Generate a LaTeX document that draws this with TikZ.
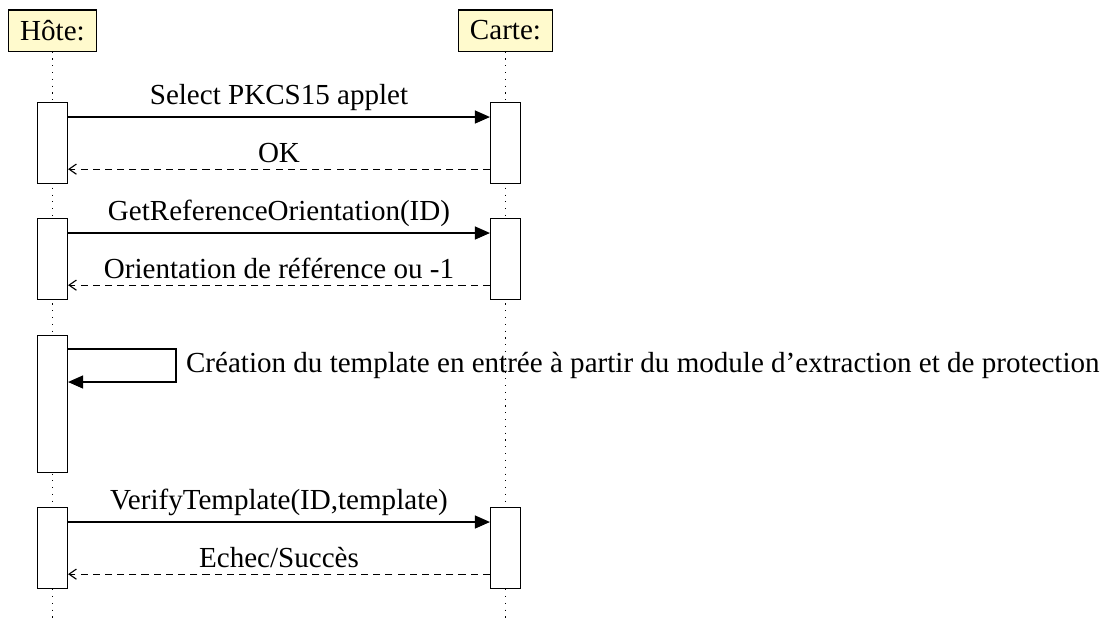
\documentclass[tikz,border=0pt]{standalone}
\usepackage{fontspec}
\setmainfont{Liberation Serif}
\usetikzlibrary{arrows.meta,calc}
\definecolor{instfill}{RGB}{255,250,205}

\begin{document}
\begin{tikzpicture}[
  x=0.3527pt, y=-0.3527pt,
  font=\fontsize{10.25}{12}\selectfont,
  inst/.style={draw, fill=instfill, inner xsep=4pt, minimum height=14.5pt},
  act/.style={draw, fill=white, inner sep=0pt, minimum width=10.58pt, minimum height=28.57pt},
  life/.style={dotted},
  call/.style={-{Triangle[length=5.3pt,width=4.6pt]}},
  ret/.style={dash pattern=on 2.5pt off 1.8pt, -{Straight Barb[length=2.6pt,width=3.6pt]}},
  msg/.style={above, inner sep=2pt}
]
\useasboundingbox (0,0) rectangle (1105,623);

\node[inst] (hote) at (52.5,30.5) {Hôte:};
\node[inst] (carte) at (505.5,30.5) {Carte:};
\coordinate (hend) at (52.5,618);
\coordinate (cend) at (505.5,618);
\draw[life] (hote) -- (hend);
\draw[life] (carte) -- (cend);

\node[act, anchor=north] (h1) at (52.5,102) {};
\node[act, anchor=north] (c1) at (505.5,102) {};
\draw[call] ($(h1.north east)+(0,15)$) -- node[msg] {Select PKCS15 applet} ($(c1.north west)+(0,15)$);
\draw[ret] ($(c1.south west)+(0,-15)$) -- node[msg] {OK} ($(h1.south east)+(0,-15)$);

\node[act, anchor=north] (h2) at (52.5,218) {};
\node[act, anchor=north] (c2) at (505.5,218) {};
\draw[call] ($(h2.north east)+(0,15)$) -- node[msg] {GetReferenceOrientation(ID)} ($(c2.north west)+(0,15)$);
\draw[ret] ($(c2.south west)+(0,-15)$) -- node[msg] {Orientation de référence ou -1} ($(h2.south east)+(0,-15)$);

\node[act, anchor=north, minimum height=48.3pt] (h3) at (52.5,335) {};
\draw[call] ($(h3.north east)+(0,14)$) -- ++(108,0) -- node[right] {Création du template en entrée à partir du module d’extraction et de protection} ++(0,33) -- ++(-108,0);

\node[act, anchor=north] (h4) at (52.5,507) {};
\node[act, anchor=north] (c4) at (505.5,507) {};
\draw[call] ($(h4.north east)+(0,15)$) -- node[msg] {VerifyTemplate(ID,template)} ($(c4.north west)+(0,15)$);
\draw[ret] ($(c4.south west)+(0,-15)$) -- node[msg] {Echec/Succès} ($(h4.south east)+(0,-15)$);
\end{tikzpicture}
\end{document}
